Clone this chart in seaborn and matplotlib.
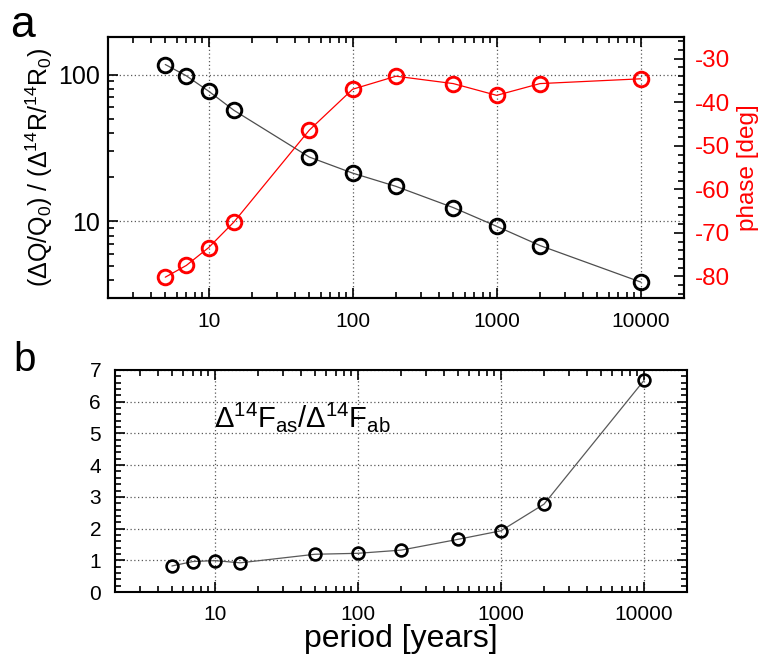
import numpy as np
import pandas as pd
import seaborn as sns
import matplotlib
matplotlib.use("Agg")
import matplotlib.pyplot as plt
from matplotlib.ticker import LogLocator, NullFormatter, MultipleLocator, FixedLocator

sns.set_style("ticks")
plt.rcParams['font.family'] = ['Liberation Sans', 'DejaVu Sans']
plt.rcParams['mathtext.fontset'] = 'custom'
plt.rcParams['mathtext.rm'] = 'Liberation Sans'
plt.rcParams['mathtext.it'] = 'Liberation Sans'
plt.rcParams['axes.unicode_minus'] = False
for k in ['text.color', 'axes.labelcolor', 'xtick.color', 'ytick.color', 'axes.edgecolor']:
    plt.rcParams[k] = 'black'

# ---- data ----
period = [5, 7, 10, 15, 50, 100, 200, 500, 1000, 2000, 10000]
amp_ratio = [117, 98, 77, 57, 27.4, 21.3, 17.3, 12.4, 9.25, 6.84, 3.86]
phase_deg = [-80.2, -77.5, -73.4, -67.5, -46.4, -37.0, -34.0, -35.7, -38.4, -35.7, -34.6]
flux_ratio = [0.82, 0.96, 0.99, 0.92, 1.19, 1.22, 1.32, 1.66, 1.93, 2.77, 6.67]
xticks = [10, 100, 1000, 10000]
xticklabels = ["10", "100", "1000", "10000"]

df = pd.DataFrame({"period": period, "amp": amp_ratio, "phase": phase_deg, "flux": flux_ratio})

fig = plt.figure(figsize=(7.62, 6.58), dpi=100)
ax1 = fig.add_axes([0.1417, 0.547, 0.7559, 0.3967])
ax2 = fig.add_axes([0.1509, 0.1003, 0.7507, 0.3374])

grid_kw = dict(color='0.35', linestyle=(0, (1, 2)), linewidth=0.9)

# ---- top panel ----
sns.lineplot(data=df, x="period", y="amp", ax=ax1, color='0.3', linewidth=0.9,
             marker='o', markersize=10.5, markerfacecolor='none',
             markeredgecolor='black', markeredgewidth=2.1, zorder=3)
ax1.set_xscale('log')
ax1.set_yscale('log')
ax1.set_xlim(2, 20000)
ax1.set_ylim(3, 180)
ax1.xaxis.set_major_locator(FixedLocator(xticks))
ax1.set_xticklabels(xticklabels)
ax1.xaxis.set_minor_locator(LogLocator(base=10, subs=np.arange(2, 10)))
ax1.xaxis.set_minor_formatter(NullFormatter())
ax1.yaxis.set_major_locator(FixedLocator([10, 100]))
ax1.set_yticklabels(["10", "100"])
ax1.yaxis.set_minor_locator(LogLocator(base=10, subs=np.arange(2, 10)))
ax1.yaxis.set_minor_formatter(NullFormatter())
ax1.grid(True, which='major', **grid_kw)
ax1.tick_params(which='both', direction='in', top=True, right=False, width=1.2)
ax1.tick_params(axis='x', which='major', labelsize=15, pad=10)
ax1.tick_params(axis='y', which='major', labelsize=18, pad=6)
ax1.tick_params(which='major', length=7)
ax1.tick_params(which='minor', length=4)
ax1.set_xlabel("")
ax1.set_ylabel(r'$\mathregular{(\Delta Q/Q_0)\ /\ (\Delta^{14}R/^{14}R_0)}$', fontsize=18, labelpad=2)
for s in ax1.spines.values():
    s.set_linewidth(1.5)

ax1r = ax1.twinx()
sns.lineplot(data=df, x="period", y="phase", ax=ax1r, color='red', linewidth=0.9,
             marker='o', markersize=10.5, markerfacecolor='none',
             markeredgecolor='red', markeredgewidth=2.1, zorder=3)
ax1r.set_ylim(-85, -25)
ax1r.yaxis.set_major_locator(MultipleLocator(10))
ax1r.yaxis.set_minor_locator(MultipleLocator(2))
ax1r.tick_params(which='both', direction='in', labelsize=17.5, colors='black', labelcolor='red', width=1.2, pad=8)
ax1r.tick_params(which='major', length=7)
ax1r.tick_params(which='minor', length=4)
ax1r.set_ylabel("phase [deg]", color='red', fontsize=17.5, labelpad=5)
ax1r.set_xlabel("")
for s in ax1r.spines.values():
    s.set_linewidth(1.5)

# ---- bottom panel ----
sns.lineplot(data=df, x="period", y="flux", ax=ax2, color='0.35', linewidth=0.9,
             marker='o', markersize=8.5, markerfacecolor='none',
             markeredgecolor='black', markeredgewidth=1.9, zorder=3)
ax2.set_xscale('log')
ax2.set_xlim(2, 20000)
ax2.set_ylim(0, 7)
ax2.xaxis.set_major_locator(FixedLocator(xticks))
ax2.set_xticklabels(xticklabels)
ax2.xaxis.set_minor_locator(LogLocator(base=10, subs=np.arange(2, 10)))
ax2.xaxis.set_minor_formatter(NullFormatter())
ax2.yaxis.set_major_locator(MultipleLocator(1))
ax2.yaxis.set_minor_locator(MultipleLocator(0.2))
ax2.grid(True, which='major', **grid_kw)
ax2.tick_params(which='both', direction='in', top=True, right=True, width=1.2)
ax2.tick_params(axis='x', which='major', labelsize=15, pad=9)
ax2.tick_params(axis='y', which='major', labelsize=15, pad=10)
ax2.tick_params(which='major', length=7)
ax2.tick_params(which='minor', length=4)
ax2.set_ylabel("")
ax2.set_xlabel("period [years]", fontsize=23, labelpad=0)
for s in ax2.spines.values():
    s.set_linewidth(1.5)
ax2.text(9.8, 5.2, r'$\mathregular{\Delta^{14}F_{as}/\Delta^{14}F_{ab}}$', fontsize=21, va='baseline', ha='left')

fig.text(0.013, 0.944, 'a', fontsize=32, ha='left', va='baseline')
fig.text(0.017, 0.436, 'b', fontsize=29, ha='left', va='baseline')

fig.savefig("out.png", dpi=100)
